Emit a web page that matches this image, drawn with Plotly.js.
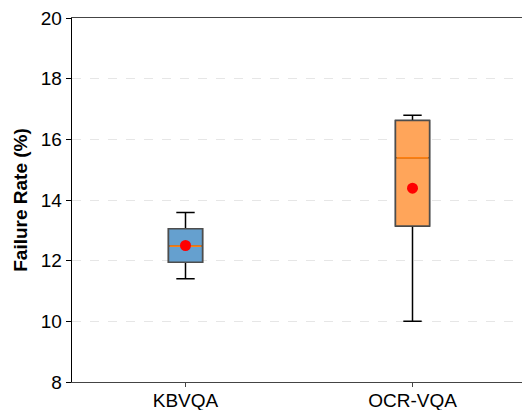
<!DOCTYPE html>
<html>
<head>
<meta charset="utf-8">
<script src="https://cdn.plot.ly/plotly-3.0.1.min.js"></script>
<style>html,body{margin:0;padding:0;overflow:hidden;background:#fff;}</style>
</head>
<body>
<div id="chart" style="width:526px;height:410px;"></div>
<script>
const categories = ['KBVQA', 'OCR-VQA'];
const q1 = [11.95, 13.14];
const medians = [12.48, 15.39];
const q3 = [13.05, 16.62];
const lowerWhisker = [11.40, 10.0];
const upperWhisker = [13.59, 16.79];
const means = [12.5, 14.39];
const yTicks = [8, 10, 12, 14, 16, 18, 20];

const fills = ['#65a0cf', '#ffa55a'];

const traces = [];
categories.forEach((c, i) => {
  traces.push({
    type: 'box', x: [c], q1: [q1[i]], median: [medians[i]], q3: [q3[i]],
    lowerfence: [lowerWhisker[i]], upperfence: [upperWhisker[i]],
    width: 0.15, whiskerwidth: 0.54, fillcolor: 'rgba(0,0,0,0)',
    line: {color: '#000000', width: 1.5}, boxpoints: false, hoverinfo: 'skip', showlegend: false
  });
  traces.push({
    type: 'box', x: [c], q1: [q1[i]], median: [medians[i]], q3: [q3[i]],
    lowerfence: [q1[i]], upperfence: [q3[i]],
    width: 0.15, whiskerwidth: 0, fillcolor: fills[i],
    line: {color: '#4d4d4d', width: 1.5}, boxpoints: false, hoverinfo: 'skip', showlegend: false
  });
  traces.push({
    type: 'box', x: [c], q1: [medians[i]], median: [medians[i]], q3: [medians[i]],
    lowerfence: [medians[i]], upperfence: [medians[i]],
    width: 0.14, whiskerwidth: 0, fillcolor: 'rgba(0,0,0,0)',
    line: {color: '#ff7f0e', width: 1.6}, boxpoints: false, hoverinfo: 'skip', showlegend: false
  });
});
traces.push({
  type: 'scatter', mode: 'markers', x: categories, y: means,
  marker: {color: '#ff0000', size: 11}, showlegend: false, hoverinfo: 'skip'
});

const layout = {
  width: 526, height: 410,
  margin: {l: 72, r: 0, t: 18, b: 28},
  paper_bgcolor: '#ffffff', plot_bgcolor: '#ffffff',
  font: {family: 'Liberation Sans, Arial, sans-serif', color: '#000000', size: 19},
  boxmode: 'overlay',
  xaxis: {
    type: 'category', range: [-0.5, 1.5],
    showline: true, linecolor: '#444444', linewidth: 1.3, mirror: true,
    showgrid: false, zeroline: false,
    ticks: 'outside', ticklen: 4, tickcolor: '#444444',
    ticklabelstandoff: -3,
    tickfont: {size: 19}
  },
  yaxis: {
    range: [8, 20], tickvals: yTicks, ticktext: yTicks.map(String),
    showline: true, linecolor: '#000000', linewidth: 1.3,
    showgrid: true, gridcolor: '#e6e6e6', griddash: 'dash', gridwidth: 1,
    zeroline: false,
    ticks: 'outside', ticklen: 5, tickcolor: '#000000',
    tickfont: {size: 19},
    title: {text: '<b>Failure Rate (%)</b>', font: {size: 19}, standoff: 8}
  }
};

Plotly.newPlot('chart', traces, layout, {displayModeBar: false, staticPlot: true});
</script>
</body>
</html>
